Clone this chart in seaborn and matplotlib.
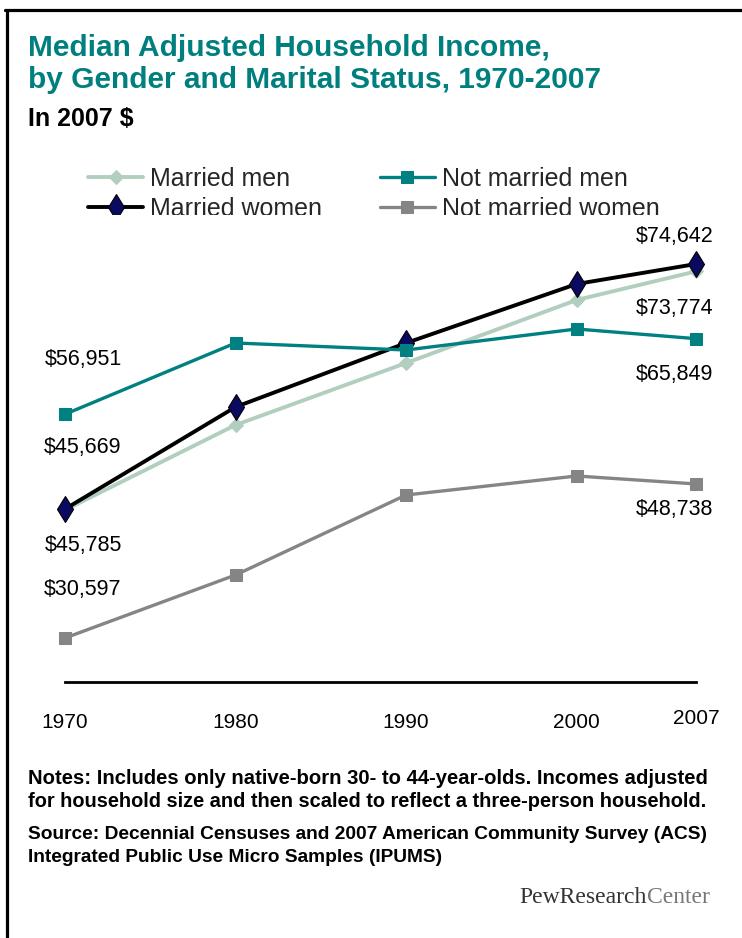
import matplotlib
matplotlib.use("Agg")
import matplotlib.pyplot as plt
from matplotlib.lines import Line2D
from matplotlib.patches import Rectangle
from matplotlib.transforms import ScaledTranslation
import seaborn as sns
import pandas as pd

# Median adjusted household income, 2007 dollars
years = [1970, 1980, 1990, 2000, 2007]
married_men = [45669, 55681, 62983, 70402, 73774]
married_women = [45785, 57801, 65338, 72287, 74642]
not_married_men = [56951, 65338, 64514, 66987, 65849]
not_married_women = [30597, 38016, 47437, 49675, 48738]

series_names = ["Married men", "Married women", "Not married men", "Not married women"]
tick_labels = ["1970", "1980", "1990", "2000", "2007"]

df = pd.DataFrame({
    "year": years * 4,
    "income": married_men + married_women + not_married_men + not_married_women,
    "group": [n for n in series_names for _ in years],
})

sns.set_theme(style="white")
plt.rcParams["font.family"] = ["Liberation Sans", "DejaVu Sans"]

W, H = 742, 938
fig = plt.figure(figsize=(W / 100, H / 100), dpi=100)
fig.patch.set_facecolor("white")

def fx(px):
    return px / W

def fy(py):
    return 1 - py / H

# plot area: 1970 -> x=65, 2007 -> x=696, baseline at y=682
ax = fig.add_axes([fx(65), fy(682), fx(696) - fx(65), fy(230) - fy(682)])
ax.set_xlim(1970, 2007)
ax.set_ylim(25414, 78646)
ax.set_facecolor("none")

styles = {
    "Married men": dict(color="#B2CEBE", marker="D", markersize=7,
                        markerfacecolor="#B2CEBE", markeredgecolor="#B2CEBE", linewidth=2.8),
    "Married women": dict(color="black", marker="d", markersize=13,
                          markerfacecolor="#0A0A60", markeredgecolor="black",
                          markeredgewidth=0.8, linewidth=2.8),
    "Not married men": dict(color="#008080", marker="s", markersize=8,
                            markerfacecolor="#008080", markeredgecolor="#008080", linewidth=2.4),
    "Not married women": dict(color="#858585", marker="s", markersize=8,
                              markerfacecolor="#858585", markeredgecolor="#858585", linewidth=2.4),
}

for name in series_names:
    sub = df[df["group"] == name]
    sns.lineplot(data=sub, x="year", y="income", ax=ax, label=name,
                 clip_on=False, **styles[name])

# value labels at the ends of the lines
labels = [
    ("$56,951", 1970, not_married_men[0], 18, 55),
    ("$45,669", 1970, married_men[0], 18, 63),
    ("$45,785", 1970, married_women[0], 18, -36),
    ("$30,597", 1970, not_married_women[0], 18, 48),
    ("$74,642", 2007, married_women[-1], -21, 27),
    ("$73,774", 2007, married_men[-1], -21, -37),
    ("$65,849", 2007, not_married_men[-1], -22, -36),
    ("$48,738", 2007, not_married_women[-1], -22, -26),
]
for text, x, y, dx, dy in labels:
    ax.annotate(text, xy=(x, y), xytext=(dx, dy), textcoords="offset pixels",
                ha="center", va="center", fontsize=15.5, color="black")

# axes styling
for side in ["left", "right", "top"]:
    ax.spines[side].set_visible(False)
ax.spines["bottom"].set_color("black")
ax.spines["bottom"].set_linewidth(2.0)
ax.spines["bottom"].set_bounds(1970, 2007)
ax.set_yticks([])
ax.set_xticks(years)
ax.set_xticklabels(tick_labels)
ax.tick_params(axis="x", length=0, pad=22, labelsize=15, colors="black")
ax.set_xlabel("")
ax.set_ylabel("")
ax.grid(False)
# the last year label sits slightly higher
last = ax.get_xticklabels()[-1]
last.set_transform(last.get_transform() + ScaledTranslation(0, 4 / 100, fig.dpi_scale_trans))

# legend
handles, leg_labels = ax.get_legend_handles_labels()
ax.get_legend().remove()
order = [leg_labels.index(n) for n in series_names]
leg = fig.legend([handles[i] for i in order], [leg_labels[i] for i in order],
                 ncol=2, loc="upper left", bbox_to_anchor=(fx(88), fy(167)),
                 bbox_transform=fig.transFigure, frameon=False,
                 prop={"family": ["Liberation Sans", "DejaVu Sans"], "size": 18},
                 handlelength=2.2, handletextpad=0.28, columnspacing=2.3,
                 labelspacing=0.24, borderpad=0, borderaxespad=0)
leg.set_zorder(5)
# the plot panel overlaps the lower edge of the second legend row
fig.add_artist(Rectangle((fx(80), fy(226)), fx(700) - fx(80), fy(215) - fy(226),
                         transform=fig.transFigure, facecolor="white",
                         edgecolor="none", zorder=6))

# frame
fig.add_artist(Line2D([fx(5), 1], [fy(10), fy(10)], color="black", linewidth=2.3,
                      transform=fig.transFigure))
fig.add_artist(Line2D([fx(7), fx(7)], [fy(10), 0], color="black", linewidth=2.3,
                      transform=fig.transFigure))

# titles
teal = "#007F7F"
fig.text(fx(28), fy(48), "Median Adjusted Household Income,", color=teal,
         fontsize=21.5, fontweight="bold", ha="left", va="center")
fig.text(fx(28), fy(80), "by Gender and Marital Status, 1970-2007", color=teal,
         fontsize=21.5, fontweight="bold", ha="left", va="center")
fig.text(fx(28), fy(119), "In 2007 $", color="black",
         fontsize=18, fontweight="bold", ha="left", va="center")

# notes and source
notes = [
    (778, 14.6, "Notes: Includes only native-born 30- to 44-year-olds. Incomes adjusted"),
    (801, 14.4, "for household size and then scaled to reflect a three-person household."),
    (834, 13.8, "Source: Decennial Censuses and 2007 American Community Survey (ACS)"),
    (857, 13.8, "Integrated Public Use Micro Samples (IPUMS)"),
]
for y, size, t in notes:
    fig.text(fx(28), fy(y), t, color="black", fontsize=size, fontweight="bold",
             ha="left", va="center")

# logo
fig.canvas.draw()
renderer = fig.canvas.get_renderer()
center = fig.text(fx(710), fy(897), "Center", color="#777777", fontsize=17,
                  family=["Liberation Serif", "DejaVu Serif"], ha="right", va="center")
cw = center.get_window_extent(renderer).width
fig.text(fx(710) - cw / W, fy(897), "PewResearch", color="#333333", fontsize=17,
         family=["Liberation Serif", "DejaVu Serif"], ha="right", va="center")

fig.savefig("out.png", dpi=100)
